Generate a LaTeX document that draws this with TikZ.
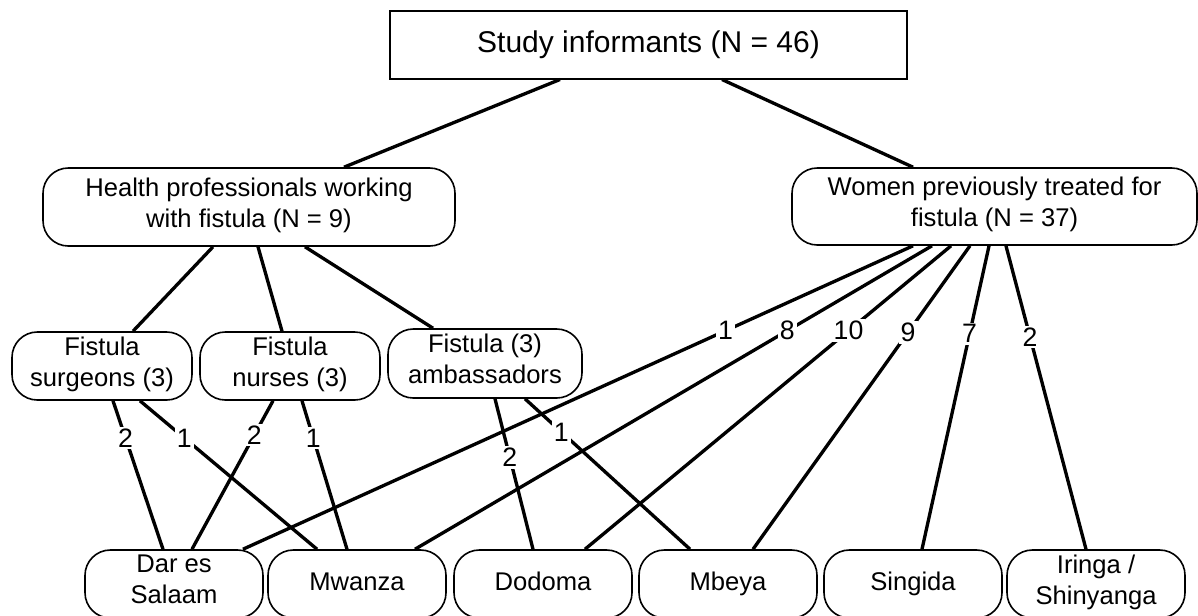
\documentclass[tikz,border=0pt]{standalone}
\usepackage{fontspec}
\setmainfont{Liberation Sans}
\begin{document}
\begin{tikzpicture}[x=0.75pt,y=-0.75pt,
  box/.style={draw,line width=1.2pt,rounded corners=19pt,align=center,inner sep=0pt,font=\fontsize{19.2}{23}\selectfont,execute at begin node=\strut,execute at end node=\strut},
  topbox/.style={draw,line width=1.5pt,align=center,inner sep=0pt,minimum width=387.75pt,minimum height=51pt,font=\fontsize{22.5}{27}\selectfont},
  midbox/.style={box,minimum width=135pt,minimum height=51pt},
  placebox/.style={box,minimum width=133.5pt,minimum height=51pt},
  link/.style={line width=2.5pt},
  num/.style={fill=white,inner sep=1.5pt,font=\fontsize{20}{24}\selectfont}]
\fill[white] (0,0) rectangle (1198,615);
\useasboundingbox (0,0) rectangle (1198,615);

% nodes
\node[topbox] (top) at (648.5,44.5) {Study informants (N = 46)};
\node[box,minimum width=309pt,minimum height=58.5pt] (hp) at (249,207) {Health professionals working\\with fistula (N = 9)};
\node[box,minimum width=303.75pt,minimum height=57.75pt] (wo) at (994.5,206.5) {Women previously treated for\\fistula (N = 37)};
\node[midbox] (su) at (102,366) {Fistula\\surgeons (3)};
\node[midbox] (nu) at (290,366) {Fistula\\nurses (3)};
\node[box,minimum width=145.5pt,minimum height=51.75pt] (am) at (485,363.5) {Fistula (3)\\ambassadors};
\node[placebox] (dar) at (174,584) {Dar es\\Salaam};
\node[placebox] (mw) at (357,584) {Mwanza};
\node[placebox] (do) at (543,584) {Dodoma};
\node[placebox] (mb) at (728,584) {Mbeya};
\node[placebox] (si) at (913,584) {Singida};
\node[placebox] (ir) at (1096,584) {Iringa /\\Shinyanga};

% top level
\draw[link] ([xshift=-66.4pt]top.south) -- ([xshift=71.25pt]hp.north);
\draw[link] ([xshift=55.1pt]top.south) -- ([xshift=-61.1pt]wo.north);

% health professionals
\draw[link] ([xshift=-27pt]hp.south) -- ([xshift=23.25pt]su.north);
\draw[link] ([xshift=6.75pt]hp.south) -- ([xshift=-6pt]nu.north);
\draw[link] ([xshift=42pt]hp.south) -- ([xshift=-39pt]am.north);

% professionals to places
\draw[link] ([xshift=8.25pt]su.south) -- node[num,pos=0.25]{2} ([xshift=-8.25pt]dar.north);
\draw[link] ([xshift=28.5pt]su.south) -- node[num,pos=0.25]{1} ([xshift=-30pt]mw.north);
\draw[link] ([xshift=-12.75pt]nu.south) -- node[num,pos=0.23]{2} ([xshift=13.5pt]dar.north);
\draw[link] ([xshift=9pt]nu.south) -- node[num,pos=0.25]{1} ([xshift=-7.5pt]mw.north);
\draw[link] ([xshift=7.5pt]am.south) -- node[num,pos=0.39]{2} ([xshift=-7.5pt]do.north);
\draw[link] ([xshift=30pt]am.south) -- node[num,pos=0.22]{1} ([xshift=-28.5pt]mb.north);

% women to places
\draw[link] ([xshift=-61.1pt]wo.south) -- node[num,pos=0.28]{1} ([xshift=51.75pt]dar.north);
\draw[link] ([xshift=-46.9pt]wo.south) -- node[num,pos=0.28]{8} ([xshift=43.5pt]mw.north);
\draw[link] ([xshift=-32.6pt]wo.south) -- node[num,pos=0.28]{10} ([xshift=31.5pt]do.north);
\draw[link] ([xshift=-18.4pt]wo.south) -- node[num,pos=0.285]{9} ([xshift=18.75pt]mb.north);
\draw[link] ([xshift=-4.1pt]wo.south) -- node[num,pos=0.29]{7} ([xshift=6.75pt]si.north);
\draw[link] ([xshift=8.6pt]wo.south) -- node[num,pos=0.3]{2} ([xshift=-7.5pt]ir.north);
\end{tikzpicture}
\end{document}
